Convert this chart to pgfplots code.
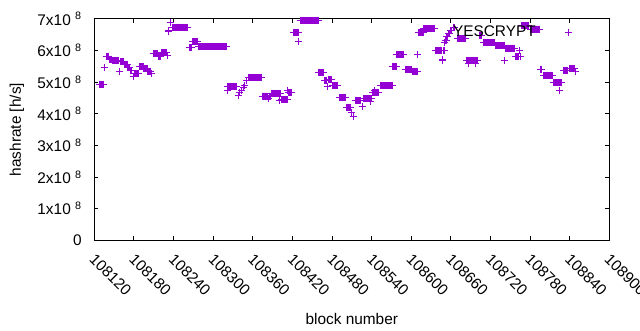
\documentclass[border=0pt]{standalone}
\usepackage{pgfplots}
\pgfplotsset{compat=1.18}
\usepackage{fontspec}
\setmainfont{Liberation Sans}
\definecolor{gpviolet}{RGB}{148,0,211}
\newcommand{\sci}[1]{#1x10 \textsuperscript{8}}
\begin{document}
\fontsize{15.4}{18}\selectfont
\begin{tikzpicture}
\useasboundingbox (-94.3pt,-89.7pt) rectangle (545.7pt,240.3pt);
\begin{axis}[
  at={(0pt,0pt)}, anchor=south west,
  scale only axis, width=515pt, height=221.5pt,
  xmin=108120, xmax=108900, ymin=0, ymax=7,
  clip=false,
  scaled x ticks=false,
  xtick={108120,108180,108240,108300,108360,108420,108480,108540,108600,108660,108720,108780,108840,108900},
  xticklabels={108120,108180,108240,108300,108360,108420,108480,108540,108600,108660,108720,108780,108840,108900},
  ytick={0,1,2,3,4,5,6,7},
  yticklabels={0,\sci{1},\sci{2},\sci{3},\sci{4},\sci{5},\sci{6},\sci{7}},
  tick align=inside,
  major tick length=4pt,
  minor tick num=0,
  axis line style={black, line width=0.9pt},
  every tick/.style={black, line width=0.9pt},
  yticklabel style={anchor=east, inner sep=0pt, xshift=-12.5pt},
  xticklabel style={yshift=-12.5pt, xshift=2pt, rotate=-45, anchor=north west, inner sep=0pt},
  xlabel={block number},
  xlabel style={at={(axis description cs:0.5,0)}, anchor=base, yshift=-83.7pt, inner sep=0pt},
  ylabel={hashrate [h/s]},
  ylabel style={at={(axis description cs:-0.1501,0.5)}, anchor=center, inner sep=0pt},
  legend plot pos=right,
  legend cell align=right,
  legend style={draw=none, fill=none, at={(0.945,0.9395)}, anchor=east},
  legend image code/.code={\path[draw=none] (0pt,0pt) -- (40pt,0pt); \path[#1, draw=none] plot[mark=+, mark options={draw=gpviolet, line width=1pt}] coordinates {(31pt,0pt)};},
]
\addplot[only marks, mark=+, mark size=3.5pt, color=gpviolet, line width=1pt] coordinates {
(108128,4.93)(108129,4.93)(108130,4.93)(108131,4.93)(108132,4.93)(108133,4.93)(108134,4.93)
(108136,5.46)
(108138,5.80)(108139,5.80)(108140,5.80)(108141,5.80)(108142,5.80)
(108143,5.72)(108144,5.72)(108145,5.72)(108146,5.72)
(108147,5.67)(108148,5.67)(108149,5.67)(108150,5.67)(108151,5.67)(108152,5.67)(108153,5.67)(108154,5.67)(108155,5.67)(108156,5.67)(108157,5.67)
(108158,5.34)
(108160,5.64)(108161,5.64)(108162,5.64)(108163,5.64)(108164,5.64)
(108166,5.56)(108167,5.56)(108168,5.56)(108169,5.56)(108170,5.56)
(108171,5.46)(108172,5.46)(108173,5.46)(108174,5.46)
(108175,5.38)(108176,5.38)(108177,5.38)
(108180,5.17)
(108181,5.27)(108182,5.27)(108183,5.27)(108184,5.27)(108185,5.27)(108186,5.27)(108187,5.27)
(108189,5.48)(108190,5.48)(108191,5.48)(108192,5.48)(108193,5.48)(108194,5.48)
(108195,5.43)(108196,5.43)(108197,5.43)(108198,5.43)(108199,5.43)(108200,5.43)
(108201,5.35)(108202,5.35)(108203,5.35)(108204,5.35)(108205,5.35)
(108206,5.27)
(108209,5.89)(108210,5.89)(108211,5.89)(108212,5.89)(108213,5.89)(108214,5.89)(108215,5.89)
(108217,5.80)(108218,5.80)(108219,5.80)(108220,5.80)(108221,5.80)
(108222,5.92)(108223,5.92)(108224,5.92)(108225,5.92)(108226,5.92)(108227,5.92)(108228,5.92)(108229,5.92)
(108231,5.85)(108232,6.64)(108233,6.60)(108235,6.87)
(108238,6.73)(108239,6.73)(108240,6.73)(108241,6.73)(108242,6.73)(108243,6.73)(108244,6.73)(108245,6.73)(108246,6.73)(108247,6.73)(108248,6.73)(108249,6.73)
(108250,6.73)(108251,6.73)(108252,6.73)(108253,6.73)(108254,6.73)(108255,6.73)(108256,6.73)(108257,6.73)(108258,6.73)(108259,6.73)(108260,6.73)(108261,6.73)
(108264,6.10)(108265,6.10)(108266,6.10)(108267,6.10)
(108269,6.28)(108270,6.28)(108271,6.28)(108272,6.28)(108273,6.28)(108274,6.28)(108275,6.28)(108276,6.28)
(108278,6.12)(108279,6.12)(108280,6.12)(108281,6.12)(108282,6.12)(108283,6.12)(108284,6.12)(108285,6.12)(108286,6.12)(108287,6.12)
(108288,6.12)(108289,6.12)(108290,6.12)(108291,6.12)(108292,6.12)(108293,6.12)(108294,6.12)(108295,6.12)(108296,6.12)(108297,6.12)
(108298,6.12)(108299,6.12)(108300,6.12)(108301,6.12)(108302,6.12)(108303,6.12)(108304,6.12)(108305,6.12)(108306,6.12)(108307,6.12)
(108308,6.12)(108309,6.12)(108310,6.12)(108311,6.12)(108312,6.12)(108313,6.12)(108314,6.12)(108315,6.12)(108316,6.12)(108317,6.12)
(108318,6.12)(108319,6.12)(108320,6.12)
(108321,4.75)
(108322,4.85)(108323,4.85)(108324,4.85)(108325,4.85)(108326,4.85)(108327,4.85)(108328,4.85)(108329,4.85)(108330,4.85)(108331,4.85)
(108332,4.85)(108333,4.85)(108334,4.85)(108335,4.85)(108336,4.85)
(108338,4.59)(108340,4.66)(108343,4.75)(108346,4.83)(108348,4.90)(108351,5.04)
(108353,5.15)(108354,5.15)(108355,5.15)(108356,5.15)(108357,5.15)(108358,5.15)(108359,5.15)(108360,5.15)(108361,5.15)(108362,5.15)
(108363,5.15)(108364,5.15)(108365,5.15)(108366,5.15)(108367,5.15)(108368,5.15)(108369,5.15)(108370,5.15)(108371,5.15)(108372,5.15)(108373,5.15)
(108374,4.56)(108375,4.56)(108376,4.56)(108377,4.56)(108378,4.56)(108379,4.56)(108380,4.56)(108381,4.56)(108382,4.56)(108383,4.56)
(108385,4.56)(108386,4.56)(108387,4.56)(108384,4.48)
(108388,4.64)(108389,4.64)(108390,4.64)(108391,4.64)(108392,4.64)(108393,4.64)(108394,4.64)(108395,4.64)(108396,4.64)(108397,4.64)
(108398,4.64)(108399,4.64)(108401,4.64)(108402,4.64)(108400,4.41)
(108404,4.45)(108405,4.45)(108406,4.45)(108407,4.45)(108408,4.45)(108409,4.45)(108410,4.45)(108411,4.45)(108412,4.45)
(108413,4.75)
(108414,4.66)(108415,4.66)(108416,4.66)(108417,4.66)(108418,4.66)(108419,4.66)
(108421,6.57)(108422,6.57)(108423,6.57)(108424,6.57)(108425,6.57)(108426,6.57)(108427,6.57)(108428,6.57)(108429,6.57)
(108430,6.29)
(108432,6.95)(108433,6.95)(108434,6.95)(108435,6.95)(108436,6.95)(108437,6.95)(108438,6.95)(108439,6.95)(108440,6.95)(108441,6.95)
(108442,6.95)(108443,6.95)(108444,6.95)(108445,6.95)(108446,6.95)(108447,6.95)(108448,6.95)(108449,6.95)(108450,6.95)(108451,6.95)
(108452,6.95)(108453,6.95)(108454,6.95)(108455,6.95)(108456,6.95)(108457,6.95)(108458,6.95)(108459,6.95)
(108460,5.30)(108461,5.30)(108462,5.30)(108463,5.30)(108464,5.30)(108465,5.30)(108466,5.30)(108467,5.30)
(108469,5.04)(108470,5.04)(108471,5.04)(108472,5.04)
(108473,4.87)
(108474,5.07)(108475,5.07)(108476,5.07)(108477,5.07)(108478,5.07)(108479,5.07)(108480,5.07)
(108481,4.89)(108482,4.89)(108483,4.89)(108484,4.89)(108485,4.89)(108486,4.89)(108487,4.89)(108488,4.89)(108489,4.89)
(108491,4.52)(108492,4.52)(108493,4.52)(108494,4.52)(108495,4.52)(108496,4.52)(108497,4.52)(108498,4.52)(108499,4.52)(108500,4.52)
(108502,4.20)(108503,4.20)(108504,4.20)(108505,4.20)(108506,4.20)(108507,4.20)(108508,4.20)
(108509,4.03)(108513,3.92)(108515,4.43)
(108517,4.41)(108518,4.41)(108519,4.41)(108520,4.41)(108521,4.41)(108522,4.41)(108523,4.41)
(108526,4.22)
(108528,4.48)(108529,4.48)(108530,4.48)(108531,4.48)(108532,4.48)(108533,4.48)(108534,4.48)(108535,4.48)(108536,4.48)(108537,4.48)
(108538,4.48)(108540,4.48)(108539,4.38)
(108542,4.66)(108543,4.66)(108544,4.66)(108546,4.66)(108547,4.66)(108548,4.66)(108549,4.66)(108550,4.66)(108545,4.75)
(108554,4.89)(108555,4.89)(108556,4.89)(108557,4.89)(108558,4.89)(108559,4.89)(108560,4.89)(108561,4.89)(108562,4.89)(108563,4.89)
(108564,4.89)(108565,4.89)(108566,4.89)(108567,4.89)(108568,4.89)(108569,4.89)(108570,4.89)(108571,4.89)
(108572,5.49)(108573,5.49)(108574,5.49)(108575,5.49)(108576,5.49)(108577,5.49)
(108578,5.87)(108579,5.87)(108580,5.87)(108581,5.87)(108582,5.87)(108583,5.87)(108584,5.87)(108585,5.87)(108586,5.87)(108587,5.87)(108588,5.87)(108589,5.87)
(108592,5.40)(108593,5.40)(108594,5.40)(108595,5.40)(108596,5.40)(108597,5.40)(108598,5.40)(108599,5.40)(108600,5.40)(108601,5.40)
(108602,5.34)(108603,5.34)(108604,5.34)(108605,5.34)(108606,5.34)(108607,5.34)(108608,5.34)(108609,5.34)
(108610,5.87)
(108611,6.57)(108612,6.57)(108613,6.57)(108614,6.57)(108615,6.57)(108616,6.57)(108617,6.57)(108618,6.57)
(108619,6.69)(108620,6.69)(108621,6.69)(108622,6.69)(108623,6.69)(108624,6.69)(108625,6.69)(108626,6.69)(108627,6.69)(108628,6.69)
(108629,6.69)(108630,6.69)(108631,6.69)(108632,6.69)(108633,6.69)(108634,6.69)(108635,6.69)
(108637,6.00)(108638,6.00)(108639,6.00)(108640,6.00)(108641,6.00)(108642,6.00)(108643,6.00)(108644,6.00)(108645,6.00)(108646,6.00)
(108649,6.00)(108651,6.00)(108647,5.72)(108648,5.69)(108650,6.24)
(108652,6.32)(108653,6.32)(108654,6.45)(108655,6.45)(108657,6.53)(108658,6.53)(108660,6.62)(108661,6.62)(108664,6.73)(108665,6.73)
(108670,6.38)(108671,6.38)(108672,6.38)(108673,6.38)(108674,6.38)(108675,6.38)(108676,6.38)(108677,6.38)(108678,6.38)(108679,6.38)
(108680,6.38)(108681,6.38)(108682,6.38)
(108684,5.69)(108685,5.69)(108686,5.69)(108688,5.69)(108689,5.69)(108690,5.69)(108691,5.69)(108692,5.69)(108693,5.69)(108694,5.69)
(108695,5.69)(108696,5.69)(108698,5.69)(108699,5.69)(108700,5.69)(108687,5.59)(108697,5.59)
(108703,6.48)(108704,6.48)(108705,6.48)(108706,6.48)(108707,6.48)
(108709,6.25)(108710,6.25)(108711,6.25)(108712,6.25)(108713,6.25)(108714,6.25)(108715,6.25)(108716,6.25)(108717,6.25)(108718,6.25)
(108719,6.25)(108720,6.25)(108721,6.25)(108722,6.25)(108723,6.25)(108724,6.25)(108725,6.25)(108726,6.25)
(108728,6.15)(108729,6.15)(108730,6.15)(108731,6.15)(108732,6.15)(108733,6.15)(108734,6.15)(108735,6.15)(108736,6.15)(108737,6.15)
(108738,6.15)(108739,6.15)(108740,6.15)(108741,6.15)
(108742,5.69)
(108743,6.07)(108744,6.07)(108745,6.07)(108746,6.07)(108747,6.07)(108748,6.07)(108749,6.07)(108750,6.07)(108751,6.07)(108752,6.07)
(108753,6.07)(108754,6.07)(108755,6.07)(108756,6.07)
(108758,5.80)(108759,5.80)(108760,5.80)(108761,5.80)(108762,5.80)(108763,5.80)(108765,5.80)(108764,6.01)
(108767,6.78)(108768,6.78)(108769,6.78)(108770,6.78)(108771,6.78)(108772,6.78)(108773,6.78)(108774,6.78)(108775,6.78)(108776,6.78)
(108777,6.78)(108778,6.78)
(108780,6.67)(108781,6.67)(108782,6.67)(108783,6.67)(108784,6.67)(108785,6.67)(108786,6.67)(108787,6.67)(108788,6.67)(108789,6.67)
(108790,6.67)(108791,6.67)(108792,6.67)(108793,6.67)(108794,6.67)
(108796,5.40)(108797,5.40)(108798,5.40)
(108800,5.21)(108801,5.21)(108802,5.21)(108803,5.21)(108804,5.21)(108805,5.21)(108806,5.21)(108807,5.21)(108808,5.21)(108809,5.21)
(108810,5.21)(108811,5.21)(108812,5.21)(108813,5.21)(108814,5.21)
(108815,4.98)(108816,4.98)(108817,4.98)(108818,4.98)(108819,4.98)(108820,4.98)(108821,4.98)(108822,4.98)(108823,4.98)(108825,4.98)
(108826,4.98)(108827,4.98)(108824,4.72)
(108830,5.36)(108831,5.36)(108832,5.36)(108833,5.36)(108834,5.36)(108835,5.36)(108836,5.36)(108837,5.36)
(108839,5.43)(108840,5.43)(108841,5.43)(108842,5.43)(108843,5.43)(108844,5.43)(108845,5.43)(108846,5.43)(108847,5.43)
(108849,5.35)
};
\addlegendentry{YESCRYPT}
\end{axis}
\end{tikzpicture}
\end{document}
